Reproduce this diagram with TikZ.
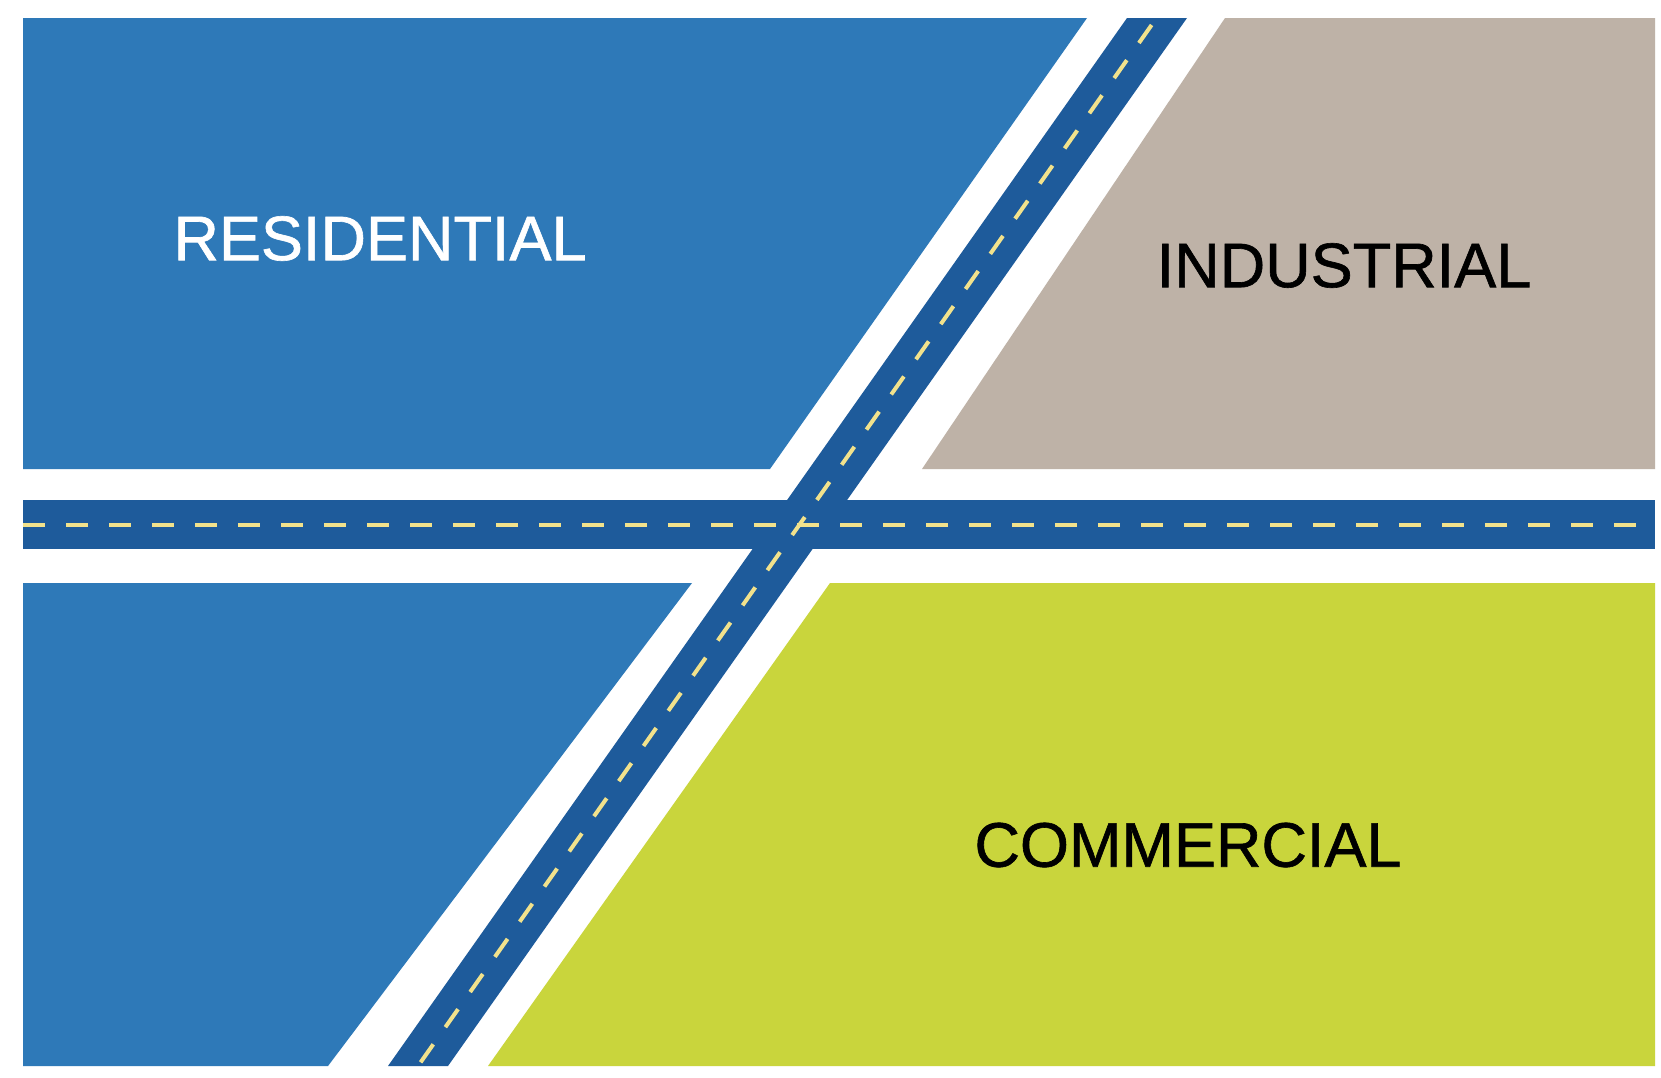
\documentclass[tikz,border=0pt]{standalone}
\usepackage{fontspec}
\setmainfont{Liberation Sans}
\newfontfamily\zonefont{Liberation Sans}[FakeBold=1]
\usepackage{xcolor}

\definecolor{resblue}{RGB}{46,121,184}
\definecolor{roadblue}{RGB}{30,91,155}
\definecolor{indbeige}{RGB}{190,178,167}
\definecolor{comgreen}{RGB}{201,213,60}
\definecolor{laneyellow}{RGB}{242,226,140}

\tikzset{
	lane/.style={draw=laneyellow, line width=2pt, dash pattern=on 11pt off 10.5pt},
	zonelabel/.style={font=\zonefont\fontsize{31.5}{36}\selectfont, inner sep=0pt}
}

\begin{document}
\begin{tikzpicture}[x=0.5pt,y=-0.5pt]
		\useasboundingbox[fill=white] (0,0) rectangle (1661,1077);
		\fill[resblue] (23,18) -- (1087,18) -- (770,469) -- (23,469) -- cycle;
		\fill[indbeige] (1225,18) -- (1655,18) -- (1655,469) -- (922,469) -- cycle;
		\fill[resblue] (23,583) -- (692,583) -- (328,1066) -- (23,1066) -- cycle;
		\fill[comgreen] (830,583) -- (1655,583) -- (1655,1066) -- (488,1066) -- cycle;
		
		\fill[roadblue] (23,500) rectangle (1655,549);
		\fill[roadblue] (1127,18) -- (1187,18) -- (448,1066) -- (388,1066) -- cycle;
		
		\coordinate (hleft) at (23,525);
		\coordinate (hright) at (1655,525);
		\coordinate (dtop) at (1151.6,25);
		\coordinate (dbot) at (418,1066);
		\draw[lane] (hleft) -- (hright);
		\draw[lane] (dtop) -- (dbot);
		
		\node[zonelabel,text=white] (res) at (380,238.5) {RESIDENTIAL};
		\node[zonelabel,text=black] (ind) at (1344,265.5) {INDUSTRIAL};
		\node[zonelabel,text=black] (com) at (1188,845) {COMMERCIAL};
	\end{tikzpicture}
\end{document}
